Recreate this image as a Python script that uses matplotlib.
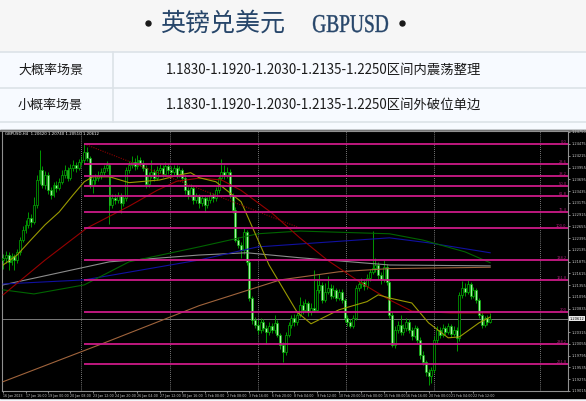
import numpy as np
import matplotlib.pyplot as plt
from matplotlib.patches import Rectangle, PathPatch
from matplotlib.textpath import TextPath
from matplotlib.font_manager import FontProperties
from matplotlib.transforms import Affine2D

plt.rcParams['font.family'] = ['Noto Sans CJK SC', 'DejaVu Sans']

# header / table text
title_cn = '英镑兑美元'
title_en = 'GBPUSD'
row_labels = ['大概率场景', '小概率场景']
row_texts = ['1.1830-1.1920-1.2030-1.2135-1.2250区间内震荡整理',
             '1.1830-1.1920-1.2030-1.2135-1.2250区间外破位单边']

# GBPUSD H4 candles, 16 Jan - 22 Feb 2023
first_open = 1.2190
closes = [
    1.2196, 1.2202, 1.2187, 1.2200, 1.2191, 1.2209, 1.2236, 1.2258, 1.2269, 1.2284,
    1.2275, 1.2313, 1.2368, 1.2390, 1.2357, 1.2379, 1.2346, 1.2335, 1.2357, 1.2350,
    1.2364, 1.2379, 1.2390, 1.2373, 1.2395, 1.2401, 1.2395, 1.2408, 1.2412, 1.2430,
    1.2417, 1.2357, 1.2368, 1.2373, 1.2379, 1.2386, 1.2395, 1.2401, 1.2313, 1.2328,
    1.2324, 1.2335, 1.2317, 1.2328, 1.2390, 1.2401, 1.2408, 1.2399, 1.2412, 1.2406,
    1.2395, 1.2359, 1.2379, 1.2386, 1.2373, 1.2390, 1.2395, 1.2381, 1.2399, 1.2390,
    1.2386, 1.2395, 1.2379, 1.2390, 1.2373, 1.2346, 1.2335, 1.2350, 1.2324, 1.2333,
    1.2317, 1.2328, 1.2313, 1.2324, 1.2335, 1.2328, 1.2346, 1.2373, 1.2386, 1.2379,
    1.2386, 1.2335, 1.2302, 1.2236, 1.2225, 1.2214, 1.2253, 1.2187, 1.2107, 1.2059,
    1.2048, 1.2037, 1.2054, 1.2041, 1.2032, 1.2046, 1.2037, 1.2052, 1.2026, 1.2004,
    1.1988, 1.2026, 1.2048, 1.2063, 1.2054, 1.2070, 1.2092, 1.2081, 1.2096, 1.2076,
    1.2085, 1.2081, 1.2125, 1.2136, 1.2103, 1.2121, 1.2130, 1.2112, 1.2125, 1.2107,
    1.2121, 1.2103, 1.2063, 1.2054, 1.2046, 1.2063, 1.2130, 1.2138, 1.2143, 1.2134,
    1.2152, 1.2165, 1.2174, 1.2180, 1.2158, 1.2147, 1.2176, 1.2143, 1.2070, 1.2004,
    1.2037, 1.2048, 1.2032, 1.2041, 1.2054, 1.2037, 1.2023, 1.2041, 1.2015, 1.1981,
    1.1966, 1.1944, 1.1935, 1.1948, 1.2015, 1.2037, 1.2026, 1.2041, 1.2032, 1.2046,
    1.2028, 1.2037, 1.2019, 1.2114, 1.2130, 1.2121, 1.2138, 1.2112, 1.2125, 1.2103,
    1.2070, 1.2048, 1.2063, 1.2054, 1.2061]
highs = [
    1.2205, 1.2210, 1.2208, 1.2207, 1.2205, 1.2215, 1.2242, 1.2266, 1.2280, 1.2298,
    1.2292, 1.2330, 1.2380, 1.2434, 1.2398, 1.2388, 1.2385, 1.2352, 1.2364, 1.2366,
    1.2372, 1.2390, 1.2402, 1.2396, 1.2404, 1.2412, 1.2408, 1.2415, 1.2420, 1.2448,
    1.2440, 1.2422, 1.2375, 1.2382, 1.2388, 1.2395, 1.2402, 1.2410, 1.2405, 1.2336,
    1.2338, 1.2342, 1.2340, 1.2335, 1.2396, 1.2410, 1.2420, 1.2416, 1.2423, 1.2419,
    1.2412, 1.2400, 1.2386, 1.2412, 1.2392, 1.2398, 1.2405, 1.2402, 1.2408, 1.2405,
    1.2398, 1.2402, 1.2400, 1.2398, 1.2395, 1.2378, 1.2352, 1.2358, 1.2355, 1.2340,
    1.2338, 1.2335, 1.2332, 1.2330, 1.2342, 1.2340, 1.2352, 1.2380, 1.2415, 1.2400,
    1.2396, 1.2392, 1.2340, 1.2308, 1.2242, 1.2230, 1.2262, 1.2258, 1.2192, 1.2112,
    1.2066, 1.2058, 1.2062, 1.2060, 1.2048, 1.2055, 1.2052, 1.2070, 1.2058, 1.2030,
    1.2010, 1.2032, 1.2055, 1.2070, 1.2072, 1.2078, 1.2110, 1.2100, 1.2105, 1.2100,
    1.2095, 1.2168, 1.2150, 1.2160, 1.2142, 1.2140, 1.2155, 1.2138, 1.2135, 1.2130,
    1.2128, 1.2126, 1.2108, 1.2070, 1.2060, 1.2070, 1.2136, 1.2145, 1.2152, 1.2150,
    1.2160, 1.2172, 1.2255, 1.2195, 1.2186, 1.2165, 1.2190, 1.2182, 1.2148, 1.2075,
    1.2045, 1.2056, 1.2070, 1.2050, 1.2062, 1.2060, 1.2042, 1.2048, 1.2046, 1.2020,
    1.1990, 1.1970, 1.1950, 1.1955, 1.2022, 1.2045, 1.2042, 1.2050, 1.2046, 1.2052,
    1.2050, 1.2044, 1.2042, 1.2120, 1.2145, 1.2140, 1.2147, 1.2142, 1.2132, 1.2130,
    1.2108, 1.2075, 1.2068, 1.2070, 1.2074]
lows = [
    1.2172, 1.2185, 1.2170, 1.2180, 1.2168, 1.2185, 1.2203, 1.2230, 1.2250, 1.2262,
    1.2265, 1.2270, 1.2305, 1.2360, 1.2350, 1.2348, 1.2338, 1.2325, 1.2330, 1.2342,
    1.2345, 1.2358, 1.2372, 1.2366, 1.2368, 1.2388, 1.2386, 1.2390, 1.2400, 1.2405,
    1.2410, 1.2350, 1.2340, 1.2360, 1.2365, 1.2370, 1.2378, 1.2388, 1.2270, 1.2305,
    1.2315, 1.2318, 1.2296, 1.2310, 1.2322, 1.2384, 1.2395, 1.2390, 1.2392, 1.2398,
    1.2388, 1.2350, 1.2352, 1.2372, 1.2365, 1.2368, 1.2384, 1.2374, 1.2376, 1.2382,
    1.2378, 1.2380, 1.2372, 1.2374, 1.2365, 1.2338, 1.2325, 1.2330, 1.2315, 1.2318,
    1.2305, 1.2310, 1.2298, 1.2306, 1.2318, 1.2320, 1.2322, 1.2340, 1.2368, 1.2370,
    1.2372, 1.2328, 1.2295, 1.2230, 1.2218, 1.2195, 1.2205, 1.2180, 1.2100, 1.2050,
    1.2040, 1.2028, 1.2030, 1.2035, 1.2005, 1.2025, 1.2030, 1.2030, 1.2020, 1.1995,
    1.1965, 1.1980, 1.2020, 1.2040, 1.2045, 1.2048, 1.2065, 1.2072, 1.2075, 1.2068,
    1.2070, 1.2075, 1.2078, 1.2118, 1.2095, 1.2098, 1.2115, 1.2105, 1.2108, 1.2100,
    1.2102, 1.2095, 1.2055, 1.2045, 1.2040, 1.2040, 1.2058, 1.2122, 1.2130, 1.2125,
    1.2128, 1.2145, 1.2160, 1.2165, 1.2150, 1.2138, 1.2142, 1.2135, 1.2062, 1.1998,
    1.1996, 1.2030, 1.2025, 1.2025, 1.2035, 1.2030, 1.2015, 1.2018, 1.2008, 1.1972,
    1.1958, 1.1935, 1.1915, 1.1920, 1.1942, 1.2008, 1.2018, 1.2020, 1.2025, 1.2028,
    1.2020, 1.2022, 1.1990, 1.2012, 1.2108, 1.2112, 1.2115, 1.2105, 1.2108, 1.2096,
    1.2062, 1.2040, 1.2042, 1.2048, 1.2051]
opens = [first_open] + closes[:-1]
bid = 1.20612

# moving averages (bar index, price)
olive_x = [0, 5, 10, 15, 20, 25, 29, 32, 38, 45, 56, 63, 67, 70, 76, 85, 95, 105, 110,
           120, 130, 134, 138, 146, 152, 159, 163, 170, 174]
olive_y = [1.2180, 1.2202, 1.2236, 1.2269, 1.2297, 1.2335, 1.2364, 1.2375, 1.2375, 1.2362,
           1.2368, 1.2379, 1.2384, 1.2373, 1.2364, 1.2320, 1.2180, 1.2076, 1.2050, 1.2081,
           1.2099, 1.2114, 1.2107, 1.2096, 1.2052, 1.2019, 1.2021, 1.2052, 1.2065]
red_x = [0, 15, 30, 45, 55, 62, 70, 78, 85, 96, 106, 116, 128, 138, 146, 160, 174]
red_y = [1.2114, 1.2191, 1.2262, 1.2310, 1.2345, 1.2365, 1.2372, 1.2368, 1.2345, 1.2295,
         1.2240, 1.2190, 1.2140, 1.2103, 1.2078, 1.2074, 1.2074]
green_x = [0, 11, 29, 45, 70, 91, 106, 138, 150, 165, 174]
green_y = [1.2125, 1.2116, 1.2136, 1.2187, 1.2220, 1.2249, 1.2255, 1.2249, 1.2235, 1.2209, 1.2185]
navy_x = [0, 29, 70, 91, 138, 152, 174]
navy_y = [1.2138, 1.2147, 1.2191, 1.2220, 1.2240, 1.2229, 1.2207]
gray_x = [0, 38, 70, 87, 106, 138, 174]
gray_y = [1.2136, 1.2187, 1.2202, 1.2207, 1.2196, 1.2180, 1.2178]
brown_x = [0, 35, 70, 99, 120, 138, 174]
brown_y = [1.1922, 1.2005, 1.2090, 1.2147, 1.2165, 1.2172, 1.2175]

# fibonacci levels (drawn from the 23 Jan high)
fib_labels = ['0.0', '23.6', '38.2', '50.0', '61.8', '76.4', '100.0',
              '138.2', '161.8', '200', '238.2', '261.8']
fib_prices = [1.24475, 1.24033, 1.23768, 1.23546, 1.23325, 1.22971, 1.22618,
              1.21910, 1.21468, 1.20761, 1.20053, 1.19611]
fib_start = 29
fib_anchor_end = 106
separators = [28, 59.5, 91, 122.5, 154, 191.8]

price_ticks = [1.24750, 1.24475, 1.24215, 1.23955, 1.23695, 1.23435, 1.23175, 1.22915,
               1.22655, 1.22395, 1.22135, 1.21875, 1.21615, 1.21355, 1.21095, 1.20835,
               1.20315, 1.20055, 1.19795, 1.19535, 1.19275, 1.19015]
date_labels = ['16 Jan 2023', '17 Jan 16:00', '19 Jan 00:00', '20 Jan 08:00', '23 Jan 12:00',
               '24 Jan 20:00', '26 Jan 04:00', '27 Jan 12:00', '30 Jan 16:00', '1 Feb 00:00',
               '2 Feb 08:00', '3 Feb 16:00', '6 Feb 20:00', '8 Feb 04:00', '9 Feb 12:00',
               '10 Feb 20:00', '14 Feb 00:00', '15 Feb 08:00', '16 Feb 16:00', '20 Feb 00:00',
               '21 Feb 04:00', '22 Feb 12:00']

W, H = 586, 401
fig = plt.figure(figsize=(W / 100, H / 100), dpi=100)

# page layer in pixel coordinates
bg = fig.add_axes([0, 0, 1, 1])
bg.set_xlim(0, W)
bg.set_ylim(H, 0)
bg.axis('off')
bg.add_patch(Rectangle((0, 0), W, 52, color='#f6f6f6', zorder=0))
bg.add_patch(Rectangle((0, 52), W, 78, color='#f7faff', zorder=0))
bg.add_patch(Rectangle((0, 398), W, 3, color='#f3f6fa', zorder=0))
bg.add_patch(Rectangle((0, 130), W, 268, color='black', zorder=1))
bg.plot([0, W], [130.5, 130.5], color='#8a8a8a', lw=1.2, zorder=2)
for yy in [52, 87.5, 122]:
    bg.plot([0, W], [yy, yy], color='#dce2e8', lw=1.2, zorder=2)
bg.plot([113, 113], [52, 122], color='#dce2e8', lw=1.2, zorder=2)

title_col = '#27466a'
bg.plot([148, 402], [23, 23], 'o', ms=3.6, color='#1a1a1a', zorder=3)
bg.text(160, 24, title_cn, fontsize=18, color=title_col, va='center', ha='left', zorder=3)
tp = TextPath((0, 0), title_en, size=25, prop=FontProperties(family='Liberation Serif'))
ext = tp.get_extents()
sx, sy = 75 / ext.width, 17 / ext.y1
tpath = Affine2D().scale(sx, -sy).translate(313 - ext.x0 * sx, 32).transform_path(tp)
bg.add_patch(PathPatch(tpath, facecolor=title_col, edgecolor=title_col, lw=0.3, zorder=3))

for k, (lab, txt) in enumerate(zip(row_labels, row_texts)):
    yc = 70 + 35 * k
    bg.text(18, yc, lab, fontsize=9.4, color='#1a1a1a', va='center', ha='left', zorder=3)
    bg.text(166, yc, txt, fontsize=9.6, color='#1a1a1a', va='center', ha='left', zorder=3)

bg.text(454, 131.5, '▼', fontsize=3.5, color='#909090', ha='center', va='top',
        family='DejaVu Sans', zorder=3)

# chart
ax = fig.add_axes([2 / W, 1 - 391 / H, 566 / W, 260 / H], facecolor='black')
ax.set_zorder(2)
idx = np.arange(len(closes))
o = np.array(opens)
c = np.array(closes)
bull = c >= o
wick_col = '#00b000'
ax.vlines(idx, lows, highs, color=wick_col, lw=0.6, zorder=2)
ax.bar(idx, np.maximum(np.abs(c - o), 0.00003), bottom=np.minimum(o, c), width=0.7,
       color=np.where(bull, 'black', '#a8f0a8'), edgecolor=wick_col, linewidth=0.5, zorder=3)

ax.plot(brown_x, brown_y, color='#a0643c', lw=0.8, zorder=4)
ax.plot(gray_x, gray_y, color='#8c8c8c', lw=0.8, zorder=4)
ax.plot(navy_x, navy_y, color='#1010a0', lw=0.8, zorder=4)
ax.plot(green_x, green_y, color='#006400', lw=0.8, zorder=4)
ax.plot(red_x, red_y, color='#960000', lw=0.8, zorder=4)
ax.plot(olive_x, olive_y, color='#9a9a00', lw=0.8, zorder=4)
ax.plot([fib_start, fib_anchor_end], [fib_prices[0], fib_prices[6]], color='#8b0000',
        lw=0.8, ls=(0, (1, 1.2)), zorder=4)

xmax = 201.8
ax.hlines(fib_prices, fib_start, xmax, color='#cc1a88', lw=1.3, zorder=5)
for lab, p in zip(fib_labels, fib_prices):
    ax.text(xmax - 0.5, p + 0.0001, lab, fontsize=2.6, color='#b0207a', ha='right',
            va='bottom', family='DejaVu Sans', zorder=6)
for s in separators:
    ax.axvline(s, color='#a0a0a0', lw=0.6, ls=(0, (1, 1.5)), zorder=1)
ax.axhline(bid, color='#8c8c8c', lw=0.6, zorder=1)

ax.set_xlim(-0.4, xmax)
ax.set_ylim(1.19014, 1.24762)
ax.yaxis.tick_right()
ax.set_yticks(price_ticks)
ax.set_yticklabels([f'{p:.5f}' for p in price_ticks], family='DejaVu Sans')
ax.set_xticks(range(0, 8 * len(date_labels), 8))
ax.set_xticklabels(date_labels, ha='left', family='DejaVu Sans')
ax.tick_params(axis='y', colors='#c8c8c8', labelsize=2.6, length=1.5, pad=0.8, width=0.5)
ax.tick_params(axis='x', colors='#c8c8c8', labelsize=2.3, length=1.5, pad=0.6, width=0.5)
for sp in ax.spines.values():
    sp.set_color('#909090')
    sp.set_linewidth(0.8)
ax.text(1.003, bid, f'{bid:.5f}', transform=ax.get_yaxis_transform(), fontsize=2.6,
        color='black', va='center', ha='left', family='DejaVu Sans',
        bbox=dict(fc='#e8e8e8', ec='none', pad=0.3), zorder=7)
ax.text(0.005, 0.995, 'GBPUSD,H4  1.20620 1.20740 1.20510 1.20612', transform=ax.transAxes,
        fontsize=2.8, color='white', va='top', ha='left', family='DejaVu Sans', zorder=7)

fig.savefig('out.png', dpi=100)
